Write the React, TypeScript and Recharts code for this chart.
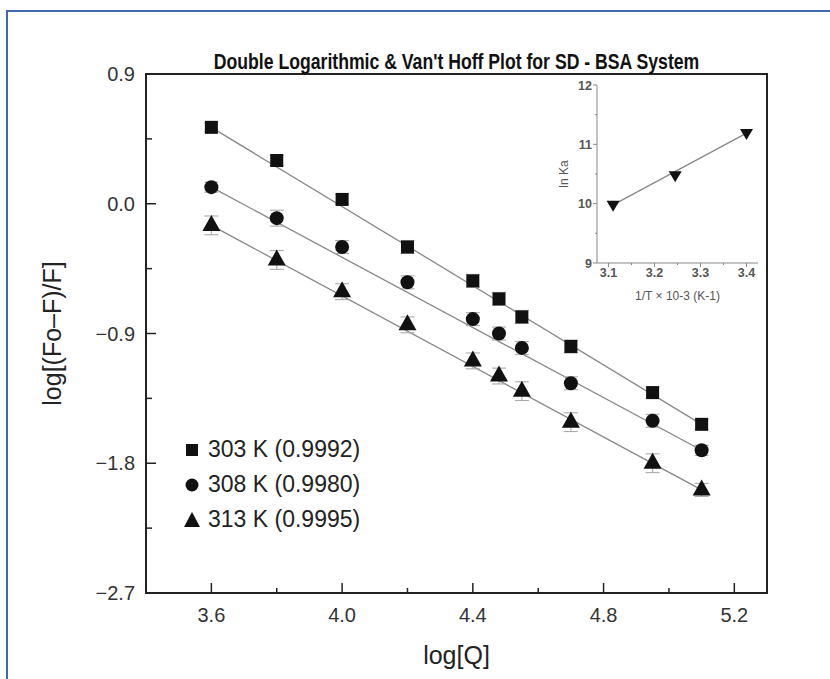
import React from "react";
import { ScatterChart, Scatter, XAxis, YAxis, ErrorBar, ReferenceLine, ReferenceArea, Legend, Label } from "recharts";

const logQ = [3.6, 3.8, 4.0, 4.2, 4.4, 4.48, 4.55, 4.7, 4.95, 5.1];
const k303 = [0.53, 0.3, 0.03, -0.3, -0.535, -0.66, -0.785, -0.99, -1.31, -1.53];
const k308 = [0.115, -0.1, -0.3, -0.545, -0.8, -0.9, -1.0, -1.245, -1.505, -1.71];
const k313 = [-0.15, -0.39, -0.61, -0.84, -1.09, -1.195, -1.3, -1.515, -1.8, -1.985];
const err303 = [0.03, 0.035, 0.035, 0.045, 0.045, 0.045, 0.045, 0.045, 0.04, 0.035];
const err308 = [0.035, 0.055, 0.045, 0.045, 0.045, 0.045, 0.045, 0.045, 0.045, 0.035];
const err313 = [0.065, 0.065, 0.055, 0.055, 0.055, 0.055, 0.065, 0.065, 0.065, 0.045];

// fitted lines, end points
const fitX = [3.6, 5.1];
const fit303 = [0.53, -1.53];
const fit308 = [0.115, -1.71];
const fit313 = [-0.15, -1.985];

const seriesNames = ["303 K (0.9992)", "308 K (0.9980)", "313 K (0.9995)"];
const xMajor = [3.6, 4.0, 4.4, 4.8, 5.2];
const xMinor = [3.8, 4.2, 4.6, 5.0];
const yMajor = [-2.7, -1.8, -0.9, 0.0, 0.9];
const yMinor = [-2.25, -1.35, -0.45, 0.45];

// inset: Van't Hoff
const invT = [3.11, 3.245, 3.4];
const lnKa = [9.98, 10.48, 11.19];
const insetXMajor = [3.1, 3.2, 3.3, 3.4];
const insetXMinor = [3.15, 3.25, 3.35];
const insetYMajor = [9, 10, 11, 12];
const insetYMinor = [9.5, 10.5, 11.5];

const FONT = "'Liberation Sans', Arial, sans-serif";

const has = (arr: number[], v: number) => arr.some((a) => Math.abs(a - v) < 1e-6);
const fmt = (v: number) => (v < -1e-9 ? "\u2212" + Math.abs(v).toFixed(1) : Math.abs(v).toFixed(1));

const toPoints = (ys: number[], errs: number[]) => logQ.map((x, i) => ({ x, y: ys[i], err: errs[i] }));
const d303 = toPoints(k303, err303);
const d308 = toPoints(k308, err308);
const d313 = toPoints(k313, err313);
const insetData = invT.map((x, i) => ({ x, y: lnKa[i] }));

const Square = (p: any) => <rect x={p.cx - 6.5} y={p.cy - 6.5} width={13} height={13} fill="#111" />;
const Dot = (p: any) => <circle cx={p.cx} cy={p.cy} r={7} fill="#111" />;
const Tri = (p: any) => (
  <polygon points={`${p.cx},${p.cy - 10.5} ${p.cx - 9},${p.cy + 5.5} ${p.cx + 9},${p.cy + 5.5}`} fill="#111" />
);
const DownTri = (p: any) => (
  <polygon points={`${p.cx - 6.5},${p.cy - 4} ${p.cx + 6.5},${p.cy - 4} ${p.cx},${p.cy + 7}`} fill="#111" />
);

const BottomTick = (props: any) => {
  const { x, y, payload } = props;
  const major = has(xMajor, payload.value);
  return (
    <g>
      <line x1={x} x2={x} y1={y} y2={y - (major ? 10 : 5)} stroke="#222" strokeWidth={1.5} />
      {major && (
        <text x={x} y={y + 29} textAnchor="middle" fontSize={20} fill="#333">
          {fmt(payload.value)}
        </text>
      )}
    </g>
  );
};

const LeftTick = (props: any) => {
  const { x, y, payload } = props;
  const major = has(yMajor, payload.value);
  return (
    <g>
      <line x1={x} x2={x + (major ? 10 : 6)} y1={y} y2={y} stroke="#222" strokeWidth={1.5} />
      {major && (
        <text x={x - 11} y={y + 7} textAnchor="end" fontSize={20} fill="#333">
          {fmt(payload.value)}
        </text>
      )}
    </g>
  );
};

const InsetBottomTick = (props: any) => {
  const { x, y, payload } = props;
  const major = has(insetXMajor, payload.value);
  return (
    <g>
      <line x1={x} x2={x} y1={y} y2={y + (major ? 4 : 2)} stroke="#888" />
      {major && (
        <text x={x} y={y + 14} textAnchor="middle" fontSize={12.5} fontWeight="bold" fill="#555">
          {payload.value.toFixed(1)}
        </text>
      )}
    </g>
  );
};

const InsetLeftTick = (props: any) => {
  const { x, y, payload } = props;
  const major = has(insetYMajor, payload.value);
  return (
    <g>
      <line x1={x} x2={x - (major ? 4 : 2)} y1={y} y2={y} stroke="#888" />
      {major && (
        <text x={x - 5} y={y + 4.5} textAnchor="end" fontSize={12.5} fontWeight="bold" fill="#555">
          {payload.value}
        </text>
      )}
    </g>
  );
};

const legendIcons = [
  <rect key="s" x={4} y={4} width={12} height={12} fill="#111" />,
  <circle key="c" cx={10} cy={10} r={6.5} fill="#111" />,
  <polygon key="t" points="10,2 2,17 18,17" fill="#111" />,
];

const LegendBox = () => (
  <div style={{ fontFamily: FONT, fontSize: 23, color: "#222" }}>
    {seriesNames.map((name, i) => (
      <div key={name} style={{ display: "flex", alignItems: "center", height: 35 }}>
        <svg width={20} height={20}>{legendIcons[i]}</svg>
        <span style={{ marginLeft: 6 }}>{name}</span>
      </div>
    ))}
  </div>
);

export default function App() {
  return (
    <div style={{ position: "absolute", left: 0, top: 0, width: 830, height: 679, background: "#fff", overflow: "hidden", fontFamily: FONT }}>
      <div style={{ position: "absolute", left: 6, top: 10, width: 900, height: 700, borderTop: "2px solid #4169b0", borderLeft: "2px solid #4169b0" }} />
      <ScatterChart width={830} height={679} margin={{ top: 74, right: 63, bottom: 6, left: 0 }} style={{ position: "absolute", left: 0, top: 0 }}>
        <XAxis type="number" dataKey="x" domain={[3.4, 5.3]} ticks={[...xMajor, ...xMinor].sort()} interval={0}
          tickSize={0} tickMargin={0} tickLine={false} tick={<BottomTick />} axisLine={{ stroke: "#222", strokeWidth: 2 }}
          height={80} allowDataOverflow>
          <Label value="log[Q]" position="insideBottom" offset={9} style={{ fontSize: 25, fill: "#222" }} />
        </XAxis>
        <YAxis type="number" dataKey="y" domain={[-2.7, 0.9]} ticks={[...yMajor, ...yMinor].sort((a, b) => a - b)} interval={0}
          tickSize={0} tickMargin={0} tickLine={false} tick={<LeftTick />} axisLine={{ stroke: "#222", strokeWidth: 2 }}
          width={146} allowDataOverflow>
          <Label value="log[(Fo–F)/F]" angle={-90} position="insideLeft" offset={52} style={{ fontSize: 25, fill: "#222", textAnchor: "middle" }} />
        </YAxis>
        <ReferenceArea x1={3.4} x2={5.3} y1={-2.7} y2={0.9} fill="none" stroke="#222" strokeWidth={2} />
        <ReferenceLine segment={[{ x: fitX[0], y: fit303[0] }, { x: fitX[1], y: fit303[1] }]} stroke="#888" strokeWidth={1.3} />
        <ReferenceLine segment={[{ x: fitX[0], y: fit308[0] }, { x: fitX[1], y: fit308[1] }]} stroke="#888" strokeWidth={1.3} />
        <ReferenceLine segment={[{ x: fitX[0], y: fit313[0] }, { x: fitX[1], y: fit313[1] }]} stroke="#888" strokeWidth={1.3} />
        <Scatter name={seriesNames[0]} data={d303} shape={Square} isAnimationActive={false}>
          <ErrorBar dataKey="err" direction="y" width={7} stroke="#aaa" strokeWidth={1.1} />
        </Scatter>
        <Scatter name={seriesNames[1]} data={d308} shape={Dot} isAnimationActive={false}>
          <ErrorBar dataKey="err" direction="y" width={7} stroke="#aaa" strokeWidth={1.1} />
        </Scatter>
        <Scatter name={seriesNames[2]} data={d313} shape={Tri} isAnimationActive={false}>
          <ErrorBar dataKey="err" direction="y" width={7} stroke="#aaa" strokeWidth={1.1} />
        </Scatter>
        <Legend layout="vertical" align="center" verticalAlign="middle" content={<LegendBox />}
          wrapperStyle={{ left: 182, top: 432, width: 240 }} />
      </ScatterChart>

      <div style={{ position: "absolute", left: 146, top: 50, width: 621, textAlign: "center", fontSize: 21.5, fontWeight: "bold", lineHeight: "24px", color: "#111", transform: "scaleX(0.82)" }}>
        Double Logarithmic &amp; Van't Hoff Plot for SD - BSA System
      </div>

      <ScatterChart width={260} height={250} margin={{ top: 15, right: 42, bottom: 12, left: 17 }} style={{ position: "absolute", left: 540, top: 70 }}>
        <XAxis type="number" dataKey="x" domain={[3.075, 3.425]} ticks={[...insetXMajor, ...insetXMinor].sort()} interval={0}
          tickSize={0} tickMargin={0} tickLine={false} tick={<InsetBottomTick />} axisLine={{ stroke: "#888" }}
          height={45} allowDataOverflow>
          <Label value="1/T × 10-3 (K-1)" position="insideBottom" offset={8} style={{ fontSize: 12, fill: "#555" }} />
        </XAxis>
        <YAxis type="number" dataKey="y" domain={[9, 12]} ticks={[...insetYMajor, ...insetYMinor].sort((a, b) => a - b)} interval={0}
          tickSize={0} tickMargin={0} tickLine={false} tick={<InsetLeftTick />} axisLine={{ stroke: "#888" }}
          width={40} allowDataOverflow>
          <Label value="ln Ka" angle={-90} position="insideLeft" offset={7} style={{ fontSize: 12, fill: "#555", textAnchor: "middle" }} />
        </YAxis>
        <ReferenceLine segment={[{ x: invT[0], y: lnKa[0] }, { x: invT[2], y: lnKa[2] }]} stroke="#888" strokeWidth={1.3} />
        <Scatter data={insetData} shape={DownTri} isAnimationActive={false} />
      </ScatterChart>
    </div>
  );
}
